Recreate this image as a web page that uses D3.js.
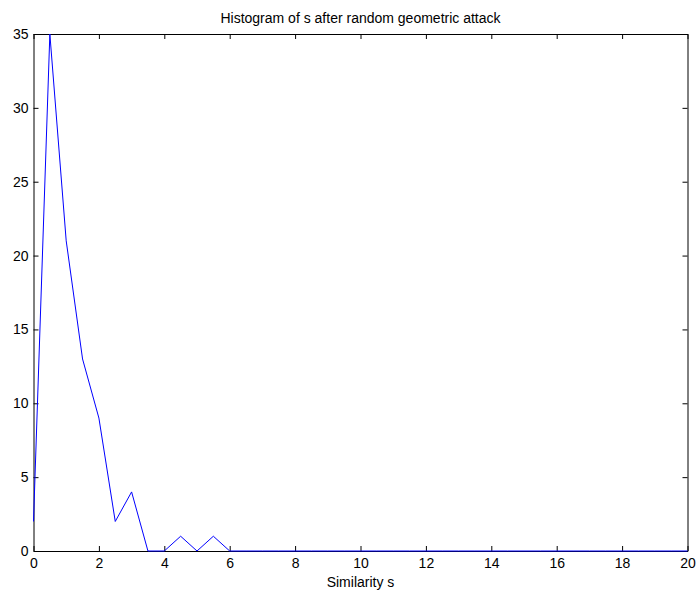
<!DOCTYPE html>
<html>
<head>
<meta charset="utf-8">
<script src="https://cdn.jsdelivr.net/npm/d3@7"></script>
<style>
  body { margin: 0; background: #fff; }
  text { font-family: "Liberation Sans", Arial, sans-serif; fill: #000; }
</style>
</head>
<body>
<div id="chart"></div>
<script>
// Bin centres (step 0.5) and counts
const binCenters = d3.range(0, 20.001, 0.5);
const counts = [2, 35, 21, 13, 9, 2, 4, 0, 0, 1, 0, 1, 0,
   0, 0, 0, 0, 0, 0, 0, 0, 0, 0, 0, 0, 0, 0, 0, 0, 0, 0,
   0, 0, 0, 0, 0, 0, 0, 0, 0, 0];
const xTicks = [0, 2, 4, 6, 8, 10, 12, 14, 16, 18, 20];
const yTicks = [0, 5, 10, 15, 20, 25, 30, 35];

const data = binCenters.map((x, i) => ({x: x, y: counts[i]}));

let width = 698, height = 594;
let margin = {top: 34, bottom: 43, left: 33.5, right: 10.5};

let svg = d3.select("#chart")
            .append("svg")
            .attr("width", width)
            .attr("height", height);

let x = d3.scaleLinear().domain([0, 20]).range([margin.left, width - margin.right]);
let y = d3.scaleLinear().domain([0, 35]).range([height - margin.bottom, margin.top]);

let tickLen = 5;

// Bottom axis (ticks inward)
svg.append("g")
   .attr("transform", `translate(0, ${y(0)})`)
   .call(d3.axisBottom(x).tickValues(xTicks).tickSizeInner(-tickLen).tickSizeOuter(0).tickPadding(7))
   .call(g => g.selectAll("text").style("font-size", "14px"));

// Top axis ticks
svg.append("g")
   .attr("transform", `translate(0, ${y(35)})`)
   .call(d3.axisTop(x).tickValues(xTicks).tickSizeInner(-tickLen).tickSizeOuter(0).tickFormat(""));

// Left axis
svg.append("g")
   .attr("transform", `translate(${x(0)}, 0)`)
   .call(d3.axisLeft(y).tickValues(yTicks).tickSizeInner(-tickLen).tickSizeOuter(0).tickPadding(5))
   .call(g => g.selectAll("text").style("font-size", "14px"));

// Right axis ticks
svg.append("g")
   .attr("transform", `translate(${x(20)}, 0)`)
   .call(d3.axisRight(y).tickValues(yTicks).tickSizeInner(-tickLen).tickSizeOuter(0).tickFormat(""));

svg.selectAll(".domain").attr("stroke", "#000");
svg.selectAll(".tick line").attr("stroke", "#000");

// Histogram line
svg.append("path")
   .datum(data)
   .attr("fill", "none")
   .attr("stroke", "#0000ff")
   .attr("stroke-width", 1)
   .attr("d", d3.line().x(d => x(d.x)).y(d => y(d.y)));

// Title
svg.append("text")
   .attr("x", (x(0) + x(20)) / 2)
   .attr("y", 23)
   .attr("text-anchor", "middle")
   .style("font-size", "14px")
   .text("Histogram of s after random geometric attack");

// X label
svg.append("text")
   .attr("x", (x(0) + x(20)) / 2)
   .attr("y", 587)
   .attr("text-anchor", "middle")
   .style("font-size", "14px")
   .text("Similarity s");
</script>
</body>
</html>
